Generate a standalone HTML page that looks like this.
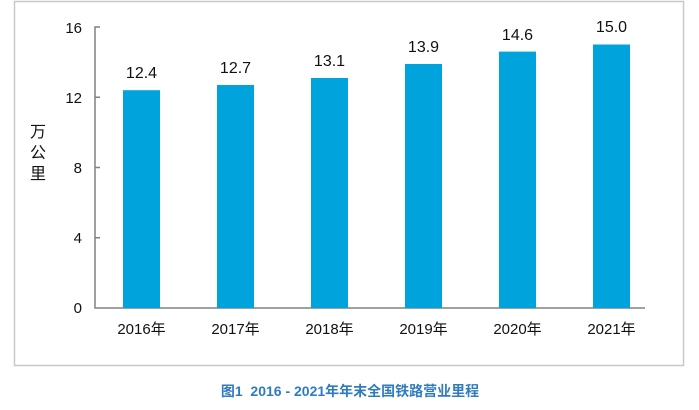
<!DOCTYPE html><html><head><meta charset="utf-8"><style>body{margin:0;background:#fff}</style></head><body>
<svg width="699" height="405" xmlns="http://www.w3.org/2000/svg" font-family="Liberation Sans, Noto Sans CJK SC, sans-serif">
<rect x="14.5" y="1.5" width="669" height="364" fill="#fff" stroke="#c8c8c8" stroke-width="1.5"/>
<g stroke="#808080" stroke-width="1.5" fill="none">
<path d="M100 27H95V308H645"/>
<path d="M95 97.3H100M95 167.5H100M95 237.8H100"/>
</g>
<g font-size="15" fill="#111" text-anchor="end">
<text x="82" y="33">16</text><text x="82" y="103">12</text><text x="82" y="173">8</text><text x="82" y="243">4</text><text x="82" y="313">0</text>
</g>
<g font-size="16" fill="#111" text-anchor="middle">
<text x="38" y="137">万</text><text x="38" y="158">公</text><text x="38" y="179">里</text>
</g>
<g fill="#00a3dc">
<rect x="123" y="90.2" width="37" height="217.8"/>
<rect x="217" y="85" width="37" height="223"/>
<rect x="311" y="78" width="37" height="230"/>
<rect x="405" y="64" width="37" height="244"/>
<rect x="499" y="51.6" width="37" height="256.4"/>
<rect x="593" y="44.5" width="37" height="263.5"/>
</g>
<g font-size="16" fill="#111" text-anchor="middle">
<text x="141.5" y="78">12.4</text><text x="235.5" y="73">12.7</text><text x="329.5" y="66">13.1</text><text x="423.5" y="52">13.9</text><text x="517.5" y="40">14.6</text><text x="611.5" y="32">15.0</text>
</g>
<g font-size="15" fill="#111" text-anchor="middle">
<text x="141.5" y="334">2016年</text><text x="235.5" y="334">2017年</text><text x="329.5" y="334">2018年</text><text x="423.5" y="334">2019年</text><text x="517.5" y="334">2020年</text><text x="611.5" y="334">2021年</text>
</g>
<text x="350" y="396" font-size="14" font-weight="bold" fill="#2f7bbf" text-anchor="middle" xml:space="preserve">图1  2016 - 2021年年末全国铁路营业里程</text>
</svg>
</body></html>
